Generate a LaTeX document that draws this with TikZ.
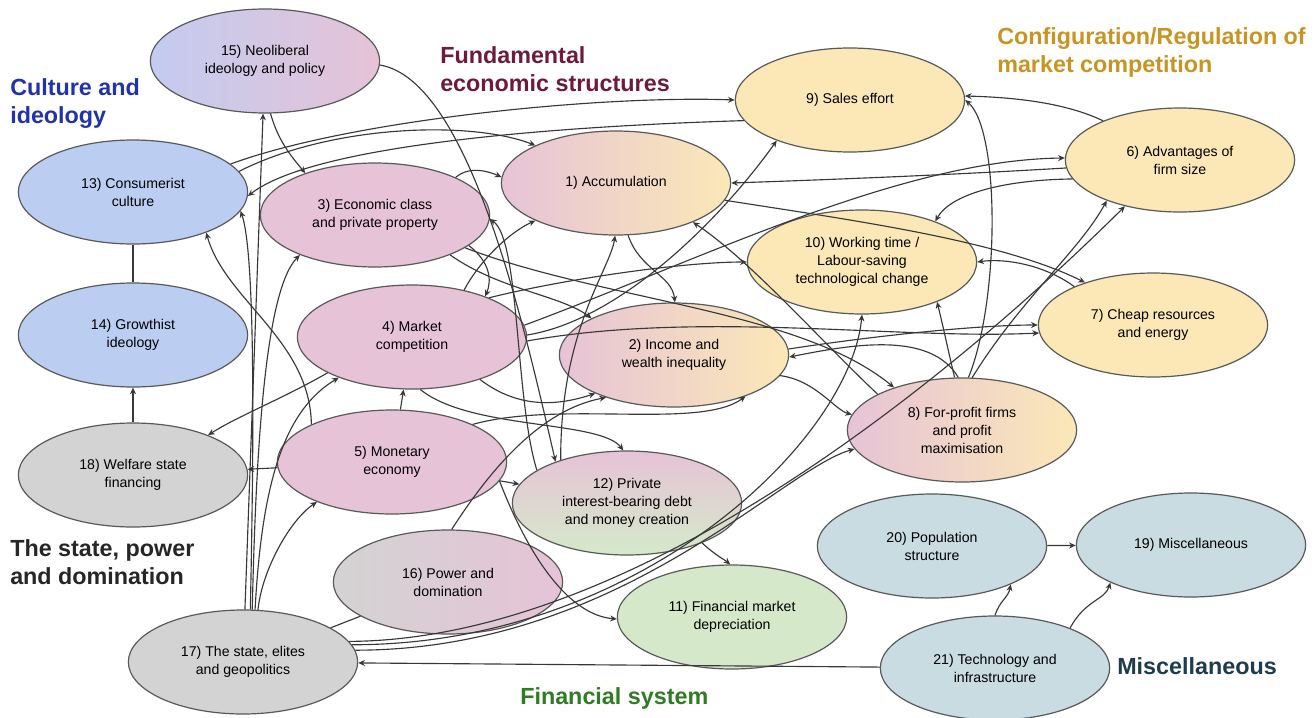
\documentclass[tikz,border=0pt]{standalone}
\usepackage{fontspec}
\setmainfont{Liberation Sans}
\usetikzlibrary{shapes.geometric,arrows.meta}
\definecolor{blueN}{HTML}{BBCEF2}
\definecolor{pinkN}{HTML}{E6C3D7}
\definecolor{yellowN}{HTML}{FBE8B6}
\definecolor{grayN}{HTML}{D3D3D3}
\definecolor{greenN}{HTML}{D5E9CA}
\definecolor{tealN}{HTML}{C9DCE2}
\definecolor{lavN}{HTML}{C3CBF0}
\definecolor{hBlue}{HTML}{2233AA}
\definecolor{hMaroon}{HTML}{6E1A3C}
\definecolor{hGold}{HTML}{C89422}
\definecolor{hDark}{HTML}{262626}
\definecolor{hGreen}{HTML}{2F7D22}
\definecolor{hTeal}{HTML}{1E3C50}
\begin{document}
\begin{tikzpicture}[x=0.75pt,y=-0.75pt,
  ell/.style={ellipse, draw=black!65, line width=0.9pt, inner sep=0pt, align=center,
    font=\fontsize{10.6}{13.5}\selectfont, minimum width=172pt, minimum height=78pt},
  ar/.style={draw=black!78, line width=0.85pt, -{Stealth[length=5pt,width=4.5pt]}},
  ln/.style={draw=black!78, line width=0.85pt},
  head/.style={font=\fontsize{17.5}{21}\selectfont\bfseries, align=left, anchor=west, inner sep=0pt}]
\useasboundingbox[fill=white] (0,0) rectangle (1315,718);

% headings
\node[head, text=hBlue] (hc) at (10,104) {Culture and\\ideology};
\node[head, text=hMaroon] (hf) at (440,69) {Fundamental\\economic structures};
\node[head, text=hGold] (hg) at (997,52) {Configuration/Regulation of\\market competition};
\node[head, text=hDark] (hs) at (10,562) {The state, power\\and domination};
\node[head, text=hGreen] (hfs) at (520,698) {Financial system};
\node[head, text=hTeal] (hm) at (1117,666) {Miscellaneous};

% nodes
\node[ell, left color=pinkN, right color=yellowN] (n1) at (616,183) {1) Accumulation};
\node[ell, left color=pinkN, right color=yellowN] (n2) at (674,355) {2) Income and\\wealth inequality};
\node[ell, fill=pinkN] (n3) at (375,215) {3) Economic class\\and private property};
\node[ell, fill=pinkN] (n4) at (412,337) {4) Market\\competition};
\node[ell, fill=pinkN] (n5) at (392,462) {5) Monetary\\economy};
\node[ell, fill=yellowN] (n6) at (1180,160) {6) Advantages of\\firm size};
\node[ell, fill=yellowN] (n7) at (1153,325) {7) Cheap resources\\and energy};
\node[ell, left color=pinkN, right color=yellowN] (n8) at (962,430) {8) For-profit firms\\and profit\\maximisation};
\node[ell, fill=yellowN] (n9) at (850,100) {9) Sales effort};
\node[ell, fill=yellowN] (n10) at (862,262) {10) Working time /\\Labour-saving\\technological change};
\node[ell, fill=greenN] (n11) at (732,617) {11) Financial market\\depreciation};
\node[ell, top color=pinkN, bottom color=greenN] (n12) at (627,503) {12) Private\\interest-bearing debt\\and money creation};
\node[ell, fill=blueN] (n13) at (133,192) {13) Consumerist\\culture};
\node[ell, fill=blueN] (n14) at (133,335) {14) Growthist\\ideology};
\node[ell, left color=lavN, right color=pinkN] (n15) at (265,61) {15) Neoliberal\\ideology and policy};
\node[ell, left color=grayN, right color=pinkN] (n16) at (448,582) {16) Power and\\domination};
\node[ell, fill=grayN] (n17) at (243,662) {17) The state, elites\\and geopolitics};
\node[ell, fill=grayN] (n18) at (133,475) {18) Welfare state\\financing};
\node[ell, fill=tealN] (n19) at (1191,545) {19) Miscellaneous};
\node[ell, fill=tealN] (n20) at (932,546) {20) Population\\structure};
\node[ell, fill=tealN] (n21) at (995,668) {21) Technology and\\infrastructure};

% connectors
\draw[ar] (n18) -- (n14);
\draw[ln] (n14) -- (n13);
\draw[ar] (n17) -- (n15);
\draw[ar] (n17.82) .. controls (252,520) and (258,260) .. (n13.-10);
\draw[ar] (n5) -- (n18);
\draw[ar] (n17.74) .. controls (262,570) and (290,520) .. (n5.208);
\draw[ar] (n17.80) .. controls (256,450) and (265,290) .. (n3.208);
\draw[ar] (n17.77) .. controls (262,480) and (285,410) .. (n4.209);
\draw[ar] (n4.203) .. controls (280,400) and (240,415) .. (n18.28);
\draw[ar] (n5.155) .. controls (310,340) and (225,300) .. (n13.-29);
\draw[ar] (n15.-84) .. controls (278,140) and (290,155) .. (n3.149);
\draw[ar] (n15.-2) .. controls (470,80) and (525,330) .. (n12.150);
\draw[ar] (n12.147) .. controls (560,330) and (610,270) .. (n1.-91);
\draw[ar] (n1.-77) .. controls (640,270) and (672,275) .. (n2.89);
\draw[ar] (n3.-28) .. controls (500,290) and (560,295) .. (n2.156);
\draw[ar] (n4.27) .. controls (560,280) and (680,262) .. (n10.180);
\draw[ar] (n3.25) .. controls (470,165) and (490,172) .. (n1.177);
\draw[ar] (n12.160) .. controls (515,400) and (520,240) .. (n3.-2);
\draw[ar] (n4.42) .. controls (480,260) and (510,232) .. (n1.205);
\draw[ar] (n5.25) .. controls (560,400) and (700,430) .. (n2.-30);
\draw[ar] (n4.-32) .. controls (520,410) and (560,405) .. (n2.206);
\draw[ar] (n4.-81) .. controls (470,430) and (600,420) .. (n12.94);
\draw[ar] (n5) -- (n12);
\draw[ar] (n5.-10) .. controls (530,560) and (570,615) .. (n11.181);
\draw[ar] (n12.-28) .. controls (715,555) and (725,560) .. (n11.92);
\draw[ar] (n16.86) .. controls (490,470) and (540,410) .. (n2.212);
\draw[ln] (n17) -- (n16);
\draw[ar] (n21) -- (n17);
\draw[ar] (n17.6) .. controls (620,650) and (780,470) .. (n8.190);
\draw[ar] (n17.9) .. controls (640,645) and (850,440) .. (n10.-90);
\draw[ar] (n17.11) .. controls (660,640) and (1000,330) .. (n6.220);
\draw[ar] (n8.98) .. controls (948,350) and (944,330) .. (n10.-28);
\draw[ar] (n8.83) .. controls (1000,300) and (1000,130) .. (n9.0);
\draw[ar] (n8.79) .. controls (1020,300) and (1080,250) .. (n6.209);
\draw[ar] (n8.94) .. controls (930,330) and (850,345) .. (n2.-1);
\draw[ar] (n8.157) .. controls (820,340) and (750,260) .. (n1.-27);
\draw[ar] (n6.153) .. controls (1060,100) and (1000,97) .. (n9.2);
\draw[ar] (n6.184) .. controls (950,175) and (820,180) .. (n1.0);
\draw[ar] (n6.190) .. controls (1000,180) and (950,195) .. (n10.29);
\draw[ar] (n4.6) .. controls (700,260) and (900,160) .. (n6.179);
\draw[ar] (n7.154) .. controls (1045,265) and (1005,258) .. (n10.0);
\draw[ar] (n2.3) .. controls (880,335) and (980,325) .. (n7.180);
\draw[ar] (n2.-11) .. controls (815,380) and (835,410) .. (n8.172);
\draw[ar] (n3.-20) .. controls (600,300) and (800,310) .. (n8.148);
\draw[ar] (n1.-9) .. controls (850,220) and (1000,240) .. (n7.148);
\draw[ar] (n4.-2) .. controls (700,310) and (900,340) .. (n7.184);
\draw[ar] (n13.16) .. controls (350,120) and (600,95) .. (n9.180);
\draw[ar] (n9.191) .. controls (600,125) and (320,140) .. (n13.-2);
\draw[ar] (n13.11) .. controls (330,125) and (470,120) .. (n1.155);
\draw[ar] (n3.-18) .. controls (490,262) and (492,280) .. (n4.29);
\draw[ar] (n5) -- (n4);
\draw[ar] (n4.1) .. controls (620,320) and (720,220) .. (n9.209);
\draw[ar] (n20) -- (n19);
\draw[ar] (n21.90) .. controls (1000,600) and (1008,598) .. (n20.-26);
\draw[ar] (n21.28) .. controls (1085,600) and (1105,600) .. (n19.205);
\end{tikzpicture}
\end{document}
